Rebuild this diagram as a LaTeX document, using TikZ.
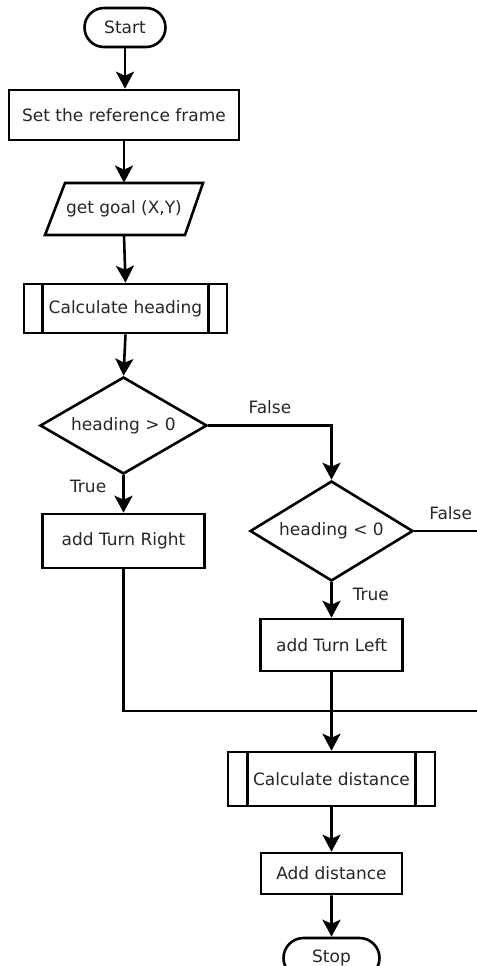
\documentclass[tikz,border=0pt]{standalone}
\usepackage{fontspec}
\setmainfont{DejaVu Sans}
\usetikzlibrary{shapes.geometric,shapes.misc,arrows.meta}
\begin{document}
\begin{tikzpicture}[x=0.5pt,y=-0.5pt,
  every node/.style={font=\fontsize{8.5}{10}\selectfont, text=black!85},
  line/.style={line width=1.3pt, black},
  arr/.style={line, -{Stealth[length=8.5pt,width=9pt,inset=2pt]}},
  term/.style={draw, line width=1.3pt, rounded rectangle, inner sep=0pt},
  proc/.style={draw, line width=1.3pt, rectangle, inner sep=0pt},
  dec/.style={draw, line width=1.3pt, diamond, inner sep=0pt, aspect=1.7},
  lbl/.style={inner sep=0pt}]
\useasboundingbox (0,0) rectangle (477,966);
\clip (0,0) rectangle (477,966);

\node[term, minimum width=40.5pt, minimum height=19.5pt] (start) at (125,27.5) {Start};
\node[proc, minimum width=115pt, minimum height=25pt] (set) at (124,115) {Set the reference frame};
\node[inner sep=0pt, minimum width=69pt, minimum height=26pt] (goal) at (124,209) {get goal (X,Y)};
\draw[line, line join=miter] (65,183) -- (203,183) -- (185,235) -- (45,235) -- cycle;
\node[proc, minimum width=101.5pt, minimum height=24.5pt] (calch) at (125.5,308.5) {Calculate heading};
\draw[line] ([xshift=10pt]calch.north west) -- ([xshift=10pt]calch.south west);
\draw[line] ([xshift=-10pt]calch.north east) -- ([xshift=-10pt]calch.south east);
\node[dec, minimum width=83.5pt, minimum height=48.5pt] (d1) at (123.5,425.5) {heading > 0};
\node[proc, minimum width=81pt, minimum height=27pt] (tr) at (123.5,541) {add Turn Right};
\node[dec, minimum width=81.5pt, minimum height=50pt] (d2) at (331.5,531) {heading < 0};
\node[proc, minimum width=71pt, minimum height=26pt] (tl) at (331.5,645) {add Turn Left};
\node[proc, minimum width=103.5pt, minimum height=27pt] (cd) at (331.5,779) {Calculate distance};
\draw[line] ([xshift=10.5pt]cd.north west) -- ([xshift=10.5pt]cd.south west);
\draw[line] ([xshift=-10.5pt]cd.north east) -- ([xshift=-10.5pt]cd.south east);
\node[proc, minimum width=70.5pt, minimum height=20.5pt] (ad) at (331.5,873.5) {Add distance};
\node[term, minimum width=48pt, minimum height=20pt] (stop) at (331.5,958) {Stop};

\coordinate (offA) at (495,531);
\coordinate (offB) at (495,711);

\draw[arr] (start.south) -- (start.south |- set.north);
\draw[arr] (set.south) -- (set.south |- goal.north);
\draw[arr] (goal.south) -- (calch.north);
\draw[arr] (calch.south) -- (d1.north);
\draw[arr] (d1.east) -| node[lbl, pos=0.25, above=5pt] {False} (d2.north);
\draw[arr] (d1.south) -- node[lbl, pos=0.3, left=8pt] {True} (tr.north);
\draw[arr] (d2.south) -- node[lbl, pos=0.35, right=10pt] {True} (tl.north);
\draw[line] (d2.east) -- node[lbl, pos=0.45, above=5pt] {False} (offA);
\draw[line] (tr.south) |- (offB);
\draw[arr] (tl.south) -- (cd.north);
\draw[arr] (cd) -- (ad);
\draw[arr] (ad) -- (stop);
\end{tikzpicture}
\end{document}
